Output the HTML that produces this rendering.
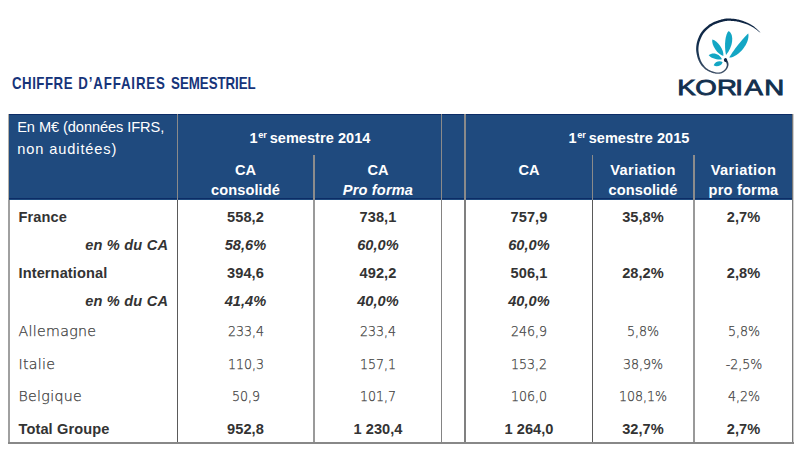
<!DOCTYPE html>
<html lang="fr"><head><meta charset="utf-8"><title>Chiffre d'affaires semestriel</title>
<style>
html,body{margin:0;padding:0;background:#fff;}
body{width:800px;height:450px;position:relative;overflow:hidden;font-family:"Liberation Sans", Arial, sans-serif;}
.t{position:absolute;line-height:1;white-space:nowrap;}
.r{position:absolute;}
</style></head><body>
<div class="t" style="left:12.30px;top:75.65px;font-size:16.6px;font-weight:700;font-style:normal;color:#16347a;letter-spacing:0.62px;transform:scaleX(0.8);transform-origin:0 0;word-spacing:1.4px;">CHIFFRE <span style="letter-spacing:1.07px">D’AFFAIRES</span> <span style="letter-spacing:-0.03px">SEMESTRIEL</span></div>
<div class="r" style="left:9px;top:114px;width:784px;height:86px;background:#1f4a7e;"></div>
<div class="r" style="left:9px;top:114px;width:784px;height:1px;background:#0c2c66;"></div>
<div class="r" style="left:9px;top:198px;width:784px;height:1px;background:#0c2c66;"></div>
<div class="r" style="left:8px;top:114px;width:1px;height:86px;background:#b4b0a8;"></div>
<div class="r" style="left:8px;top:200px;width:2px;height:244px;background:#a0a0a0;"></div>
<div class="r" style="left:177px;top:114px;width:1px;height:86px;background:#8a8a8a;"></div>
<div class="r" style="left:177px;top:200px;width:1px;height:244px;background:#5a5a5a;"></div>
<div class="r" style="left:313px;top:155px;width:2px;height:45px;background:#8c8c8c;"></div>
<div class="r" style="left:313px;top:200px;width:2px;height:244px;background:#9a9a9a;"></div>
<div class="r" style="left:441px;top:114px;width:1px;height:86px;background:#8a8a8a;"></div>
<div class="r" style="left:441px;top:200px;width:1px;height:244px;background:#848484;"></div>
<div class="r" style="left:464px;top:114px;width:2px;height:86px;background:#8a8a8a;"></div>
<div class="r" style="left:464px;top:200px;width:2px;height:244px;background:#808080;"></div>
<div class="r" style="left:592px;top:155px;width:1px;height:45px;background:#8a8a8a;"></div>
<div class="r" style="left:592px;top:200px;width:1px;height:244px;background:#5a5a5a;"></div>
<div class="r" style="left:693px;top:155px;width:2px;height:45px;background:#8c8c8c;"></div>
<div class="r" style="left:693px;top:200px;width:2px;height:244px;background:#999999;"></div>
<div class="r" style="left:792px;top:114px;width:1px;height:330px;background:#7a7a7a;"></div>
<div class="r" style="left:793px;top:114px;width:1px;height:330px;background:#d0d0d0;"></div>
<div class="r" style="left:8px;top:442px;width:786px;height:2px;background:#888888;"></div>
<div class="t" style="left:17.20px;top:119.64px;font-size:14.6px;font-weight:400;font-style:normal;color:#ffffff;letter-spacing:-0.07px;">En M€ (données IFRS,</div>
<div class="t" style="left:17.20px;top:141.54px;font-size:14.6px;font-weight:400;font-style:normal;color:#ffffff;letter-spacing:0.9px;">non auditées)</div>
<div class="t" style="left:190.00px;width:240px;text-align:center;top:129.80px;font-size:15.0px;font-weight:700;font-style:normal;color:#ffffff;letter-spacing:0.05px;transform:scaleX(0.968);">1<span style="font-size:9.5px;position:relative;top:-4.5px;margin:0 -1.5px 0 0.5px;">er</span> semestre 2014</div>
<div class="t" style="left:509.20px;width:240px;text-align:center;top:129.80px;font-size:15.0px;font-weight:700;font-style:normal;color:#ffffff;letter-spacing:0.05px;transform:scaleX(0.968);">1<span style="font-size:9.5px;position:relative;top:-4.5px;margin:0 -1.5px 0 0.5px;">er</span> semestre 2015</div>
<div class="t" style="left:125.50px;width:240px;text-align:center;top:162.64px;font-size:14.6px;font-weight:700;font-style:normal;color:#ffffff;">CA</div>
<div class="t" style="left:125.50px;width:240px;text-align:center;top:183.24px;font-size:14.6px;font-weight:700;font-style:normal;color:#ffffff;letter-spacing:0.1px;">consolidé</div>
<div class="t" style="left:258.00px;width:240px;text-align:center;top:162.64px;font-size:14.6px;font-weight:700;font-style:normal;color:#ffffff;">CA</div>
<div class="t" style="left:258.00px;width:240px;text-align:center;top:183.24px;font-size:14.6px;font-weight:700;font-style:italic;color:#ffffff;letter-spacing:0.15px;">Pro forma</div>
<div class="t" style="left:409.00px;width:240px;text-align:center;top:162.64px;font-size:14.6px;font-weight:700;font-style:normal;color:#ffffff;">CA</div>
<div class="t" style="left:523.00px;width:240px;text-align:center;top:162.64px;font-size:14.6px;font-weight:700;font-style:normal;color:#ffffff;letter-spacing:0.45px;">Variation</div>
<div class="t" style="left:523.00px;width:240px;text-align:center;top:183.24px;font-size:14.6px;font-weight:700;font-style:normal;color:#ffffff;letter-spacing:0.1px;">consolidé</div>
<div class="t" style="left:623.50px;width:240px;text-align:center;top:162.64px;font-size:14.6px;font-weight:700;font-style:normal;color:#ffffff;letter-spacing:0.45px;">Variation</div>
<div class="t" style="left:623.50px;width:240px;text-align:center;top:183.24px;font-size:14.6px;font-weight:700;font-style:normal;color:#ffffff;letter-spacing:0.2px;">pro forma</div>
<div class="t" style="left:18.50px;top:210.24px;font-size:14.6px;font-weight:700;font-style:normal;color:#333333;letter-spacing:0.1px;">France</div>
<div class="t" style="left:125.50px;width:240px;text-align:center;top:210.24px;font-size:14.6px;font-weight:700;font-style:normal;color:#333333;letter-spacing:0.05px;">558,2</div>
<div class="t" style="left:258.00px;width:240px;text-align:center;top:210.24px;font-size:14.6px;font-weight:700;font-style:normal;color:#333333;letter-spacing:0.05px;">738,1</div>
<div class="t" style="left:409.00px;width:240px;text-align:center;top:210.24px;font-size:14.6px;font-weight:700;font-style:normal;color:#333333;letter-spacing:0.05px;">757,9</div>
<div class="t" style="left:523.00px;width:240px;text-align:center;top:210.24px;font-size:14.6px;font-weight:700;font-style:normal;color:#333333;letter-spacing:0.05px;">35,8%</div>
<div class="t" style="left:623.50px;width:240px;text-align:center;top:210.24px;font-size:14.6px;font-weight:700;font-style:normal;color:#333333;letter-spacing:0.05px;">2,7%</div>
<div class="t" style="left:-71.80px;width:240px;text-align:right;top:238.44px;font-size:14.6px;font-weight:700;font-style:italic;color:#333333;letter-spacing:0.2px;">en % du CA</div>
<div class="t" style="left:125.50px;width:240px;text-align:center;top:238.44px;font-size:14.6px;font-weight:700;font-style:italic;color:#333333;letter-spacing:0.05px;">58,6%</div>
<div class="t" style="left:258.00px;width:240px;text-align:center;top:238.44px;font-size:14.6px;font-weight:700;font-style:italic;color:#333333;letter-spacing:0.05px;">60,0%</div>
<div class="t" style="left:409.00px;width:240px;text-align:center;top:238.44px;font-size:14.6px;font-weight:700;font-style:italic;color:#333333;letter-spacing:0.05px;">60,0%</div>
<div class="t" style="left:18.50px;top:265.84px;font-size:14.6px;font-weight:700;font-style:normal;color:#333333;letter-spacing:0.1px;">International</div>
<div class="t" style="left:125.50px;width:240px;text-align:center;top:265.84px;font-size:14.6px;font-weight:700;font-style:normal;color:#333333;letter-spacing:0.05px;">394,6</div>
<div class="t" style="left:258.00px;width:240px;text-align:center;top:265.84px;font-size:14.6px;font-weight:700;font-style:normal;color:#333333;letter-spacing:0.05px;">492,2</div>
<div class="t" style="left:409.00px;width:240px;text-align:center;top:265.84px;font-size:14.6px;font-weight:700;font-style:normal;color:#333333;letter-spacing:0.05px;">506,1</div>
<div class="t" style="left:523.00px;width:240px;text-align:center;top:265.84px;font-size:14.6px;font-weight:700;font-style:normal;color:#333333;letter-spacing:0.05px;">28,2%</div>
<div class="t" style="left:623.50px;width:240px;text-align:center;top:265.84px;font-size:14.6px;font-weight:700;font-style:normal;color:#333333;letter-spacing:0.05px;">2,8%</div>
<div class="t" style="left:-71.80px;width:240px;text-align:right;top:294.24px;font-size:14.6px;font-weight:700;font-style:italic;color:#333333;letter-spacing:0.2px;">en % du CA</div>
<div class="t" style="left:125.50px;width:240px;text-align:center;top:294.24px;font-size:14.6px;font-weight:700;font-style:italic;color:#333333;letter-spacing:0.05px;">41,4%</div>
<div class="t" style="left:258.00px;width:240px;text-align:center;top:294.24px;font-size:14.6px;font-weight:700;font-style:italic;color:#333333;letter-spacing:0.05px;">40,0%</div>
<div class="t" style="left:409.00px;width:240px;text-align:center;top:294.24px;font-size:14.6px;font-weight:700;font-style:italic;color:#333333;letter-spacing:0.05px;">40,0%</div>
<div class="t" style="left:18.50px;top:323.98px;font-size:14.2px;font-weight:200;font-style:normal;color:#3a3a3a;letter-spacing:0.3px;font-family:'DejaVu Sans',sans-serif;-webkit-text-stroke:0.25px #3a3a3a;">Allemagne</div>
<div class="t" style="left:125.50px;width:240px;text-align:center;top:323.98px;font-size:14.2px;font-weight:200;font-style:normal;color:#3a3a3a;font-family:'DejaVu Sans',sans-serif;-webkit-text-stroke:0.25px #3a3a3a;transform:scaleX(0.89);">233,4</div>
<div class="t" style="left:258.00px;width:240px;text-align:center;top:323.98px;font-size:14.2px;font-weight:200;font-style:normal;color:#3a3a3a;font-family:'DejaVu Sans',sans-serif;-webkit-text-stroke:0.25px #3a3a3a;transform:scaleX(0.89);">233,4</div>
<div class="t" style="left:409.00px;width:240px;text-align:center;top:323.98px;font-size:14.2px;font-weight:200;font-style:normal;color:#3a3a3a;font-family:'DejaVu Sans',sans-serif;-webkit-text-stroke:0.25px #3a3a3a;transform:scaleX(0.89);">246,9</div>
<div class="t" style="left:523.00px;width:240px;text-align:center;top:323.98px;font-size:14.2px;font-weight:200;font-style:normal;color:#3a3a3a;font-family:'DejaVu Sans',sans-serif;-webkit-text-stroke:0.25px #3a3a3a;transform:scaleX(0.89);">5,8%</div>
<div class="t" style="left:623.50px;width:240px;text-align:center;top:323.98px;font-size:14.2px;font-weight:200;font-style:normal;color:#3a3a3a;font-family:'DejaVu Sans',sans-serif;-webkit-text-stroke:0.25px #3a3a3a;transform:scaleX(0.89);">5,8%</div>
<div class="t" style="left:18.50px;top:356.78px;font-size:14.2px;font-weight:200;font-style:normal;color:#3a3a3a;letter-spacing:0.3px;font-family:'DejaVu Sans',sans-serif;-webkit-text-stroke:0.25px #3a3a3a;">Italie</div>
<div class="t" style="left:125.50px;width:240px;text-align:center;top:356.78px;font-size:14.2px;font-weight:200;font-style:normal;color:#3a3a3a;font-family:'DejaVu Sans',sans-serif;-webkit-text-stroke:0.25px #3a3a3a;transform:scaleX(0.89);">110,3</div>
<div class="t" style="left:258.00px;width:240px;text-align:center;top:356.78px;font-size:14.2px;font-weight:200;font-style:normal;color:#3a3a3a;font-family:'DejaVu Sans',sans-serif;-webkit-text-stroke:0.25px #3a3a3a;transform:scaleX(0.89);">157,1</div>
<div class="t" style="left:409.00px;width:240px;text-align:center;top:356.78px;font-size:14.2px;font-weight:200;font-style:normal;color:#3a3a3a;font-family:'DejaVu Sans',sans-serif;-webkit-text-stroke:0.25px #3a3a3a;transform:scaleX(0.89);">153,2</div>
<div class="t" style="left:523.00px;width:240px;text-align:center;top:356.78px;font-size:14.2px;font-weight:200;font-style:normal;color:#3a3a3a;font-family:'DejaVu Sans',sans-serif;-webkit-text-stroke:0.25px #3a3a3a;transform:scaleX(0.89);">38,9%</div>
<div class="t" style="left:623.50px;width:240px;text-align:center;top:356.78px;font-size:14.2px;font-weight:200;font-style:normal;color:#3a3a3a;font-family:'DejaVu Sans',sans-serif;-webkit-text-stroke:0.25px #3a3a3a;transform:scaleX(0.89);">-2,5%</div>
<div class="t" style="left:18.50px;top:388.98px;font-size:14.2px;font-weight:200;font-style:normal;color:#3a3a3a;letter-spacing:0.3px;font-family:'DejaVu Sans',sans-serif;-webkit-text-stroke:0.25px #3a3a3a;">Belgique</div>
<div class="t" style="left:125.50px;width:240px;text-align:center;top:388.98px;font-size:14.2px;font-weight:200;font-style:normal;color:#3a3a3a;font-family:'DejaVu Sans',sans-serif;-webkit-text-stroke:0.25px #3a3a3a;transform:scaleX(0.89);">50,9</div>
<div class="t" style="left:258.00px;width:240px;text-align:center;top:388.98px;font-size:14.2px;font-weight:200;font-style:normal;color:#3a3a3a;font-family:'DejaVu Sans',sans-serif;-webkit-text-stroke:0.25px #3a3a3a;transform:scaleX(0.89);">101,7</div>
<div class="t" style="left:409.00px;width:240px;text-align:center;top:388.98px;font-size:14.2px;font-weight:200;font-style:normal;color:#3a3a3a;font-family:'DejaVu Sans',sans-serif;-webkit-text-stroke:0.25px #3a3a3a;transform:scaleX(0.89);">106,0</div>
<div class="t" style="left:523.00px;width:240px;text-align:center;top:388.98px;font-size:14.2px;font-weight:200;font-style:normal;color:#3a3a3a;font-family:'DejaVu Sans',sans-serif;-webkit-text-stroke:0.25px #3a3a3a;transform:scaleX(0.89);">108,1%</div>
<div class="t" style="left:623.50px;width:240px;text-align:center;top:388.98px;font-size:14.2px;font-weight:200;font-style:normal;color:#3a3a3a;font-family:'DejaVu Sans',sans-serif;-webkit-text-stroke:0.25px #3a3a3a;transform:scaleX(0.89);">4,2%</div>
<div class="t" style="left:18.50px;top:421.84px;font-size:14.6px;font-weight:700;font-style:normal;color:#333333;letter-spacing:0.1px;">Total Groupe</div>
<div class="t" style="left:125.50px;width:240px;text-align:center;top:421.84px;font-size:14.6px;font-weight:700;font-style:normal;color:#333333;letter-spacing:0.05px;">952,8</div>
<div class="t" style="left:258.00px;width:240px;text-align:center;top:421.84px;font-size:14.6px;font-weight:700;font-style:normal;color:#333333;letter-spacing:0.05px;">1 230,4</div>
<div class="t" style="left:409.00px;width:240px;text-align:center;top:421.84px;font-size:14.6px;font-weight:700;font-style:normal;color:#333333;letter-spacing:0.05px;">1 264,0</div>
<div class="t" style="left:523.00px;width:240px;text-align:center;top:421.84px;font-size:14.6px;font-weight:700;font-style:normal;color:#333333;letter-spacing:0.05px;">32,7%</div>
<div class="t" style="left:623.50px;width:240px;text-align:center;top:421.84px;font-size:14.6px;font-weight:700;font-style:normal;color:#333333;letter-spacing:0.05px;">2,7%</div>
<svg class="r" style="left:670px;top:10px;" width="125" height="95" viewBox="670 10 125 95">
<defs><linearGradient id="sg" gradientUnits="userSpaceOnUse" x1="0" y1="18" x2="0" y2="75"><stop offset="0" stop-color="#0e2442"/><stop offset="0.55" stop-color="#13304f"/><stop offset="1" stop-color="#44546a"/></linearGradient></defs>
<path d="M760.33,32.25 L759.66,31.65 L759.00,31.03 L758.34,30.41 L757.68,29.79 L757.01,29.17 L756.35,28.56 L755.68,27.96 L755.00,27.38 L754.32,26.82 L753.63,26.30 L752.94,25.83 L752.26,25.38 L751.58,24.95 L750.90,24.55 L750.22,24.17 L749.52,23.80 L748.82,23.44 L748.11,23.09 L747.37,22.75 L746.62,22.41 L745.83,22.08 L745.03,21.75 L744.20,21.43 L743.35,21.12 L742.50,20.83 L741.64,20.54 L740.78,20.27 L739.92,20.02 L739.06,19.78 L738.22,19.57 L737.38,19.39 L736.54,19.23 L735.70,19.09 L734.87,18.96 L734.04,18.86 L733.21,18.76 L732.40,18.69 L731.59,18.63 L730.80,18.58 L730.03,18.55 L729.29,18.53 L728.59,18.52 L727.91,18.51 L727.23,18.52 L726.55,18.55 L725.85,18.61 L725.13,18.69 L724.37,18.80 L723.57,18.95 L722.72,19.13 L721.80,19.37 L720.81,19.64 L719.77,19.95 L718.69,20.29 L717.59,20.65 L716.50,21.04 L715.42,21.44 L714.38,21.86 L713.39,22.29 L712.47,22.73 L711.61,23.17 L710.80,23.64 L710.03,24.12 L709.29,24.61 L708.60,25.12 L707.93,25.63 L707.29,26.15 L706.67,26.67 L706.08,27.19 L705.49,27.71 L704.93,28.23 L704.39,28.75 L703.86,29.27 L703.36,29.80 L702.88,30.35 L702.41,30.91 L701.96,31.48 L701.52,32.09 L701.09,32.71 L700.68,33.37 L700.26,34.08 L699.86,34.81 L699.47,35.58 L699.09,36.37 L698.73,37.17 L698.39,37.98 L698.07,38.79 L697.77,39.59 L697.50,40.38 L697.25,41.15 L697.04,41.92 L696.85,42.68 L696.69,43.43 L696.56,44.18 L696.44,44.92 L696.35,45.65 L696.28,46.37 L696.22,47.08 L696.18,47.78 L696.15,48.46 L696.14,49.14 L696.16,49.81 L696.19,50.46 L696.24,51.10 L696.31,51.72 L696.40,52.34 L696.49,52.94 L696.59,53.54 L696.70,54.12 L696.82,54.71 L696.94,55.29 L697.08,55.87 L697.22,56.44 L697.37,57.01 L697.53,57.57 L697.71,58.14 L697.90,58.70 L698.11,59.27 L698.34,59.83 L698.58,60.39 L698.83,60.95 L699.09,61.50 L699.37,62.06 L699.66,62.63 L699.97,63.19 L700.30,63.76 L700.66,64.32 L701.04,64.88 L701.46,65.44 L701.91,65.98 L702.39,66.51 L702.89,67.04 L703.42,67.58 L703.98,68.11 L704.57,68.63 L705.17,69.14 L705.81,69.63 L706.46,70.10 L707.13,70.54 L707.83,70.95 L708.55,71.33 L709.32,71.69 L710.12,72.03 L710.94,72.35 L711.77,72.64 L712.60,72.91 L713.42,73.14 L714.21,73.34 L714.97,73.51 L715.69,73.64 L716.37,73.74 L717.02,73.81 L717.66,73.84 L718.27,73.84 L718.87,73.80 L719.45,73.74 L720.01,73.65 L720.56,73.53 L721.09,73.38 L721.62,73.21 L722.15,73.01 L722.67,72.76 L723.18,72.48 L723.67,72.18 L724.14,71.85 L724.58,71.50 L725.01,71.15 L725.41,70.79 L725.78,70.43 L726.12,70.07 L726.45,69.70 L726.75,69.31 L727.03,68.91 L727.27,68.50 L727.50,68.09 L727.70,67.68 L727.88,67.27 L728.03,66.87 L728.16,66.47 L728.28,66.09 L728.37,65.70 L728.44,65.31 L728.49,64.92 L728.50,64.54 L728.50,64.16 L728.47,63.80 L728.43,63.44 L728.36,63.09 L728.29,62.74 L728.20,62.39 L728.08,62.03 L727.93,61.67 L727.77,61.33 L727.58,61.01 L727.40,60.71 L727.21,60.42 L727.03,60.15 L726.86,59.88 L726.71,59.63 L726.56,59.37 L724.64,60.63 L724.84,60.91 L725.06,61.18 L725.28,61.44 L725.49,61.69 L725.69,61.93 L725.87,62.16 L726.04,62.37 L726.18,62.59 L726.30,62.79 L726.40,63.01 L726.49,63.25 L726.57,63.51 L726.65,63.78 L726.71,64.04 L726.75,64.31 L726.78,64.58 L726.80,64.86 L726.79,65.13 L726.77,65.42 L726.72,65.71 L726.65,66.03 L726.55,66.37 L726.44,66.72 L726.30,67.08 L726.15,67.43 L725.98,67.79 L725.78,68.14 L725.57,68.48 L725.34,68.81 L725.08,69.13 L724.78,69.45 L724.45,69.79 L724.10,70.12 L723.72,70.45 L723.33,70.77 L722.92,71.07 L722.49,71.34 L722.06,71.59 L721.62,71.81 L721.18,71.99 L720.72,72.14 L720.25,72.26 L719.76,72.37 L719.27,72.45 L718.76,72.51 L718.23,72.54 L717.69,72.54 L717.12,72.51 L716.53,72.45 L715.91,72.36 L715.25,72.22 L714.54,72.04 L713.79,71.83 L713.02,71.59 L712.23,71.32 L711.45,71.02 L710.67,70.71 L709.93,70.37 L709.23,70.01 L708.57,69.65 L707.96,69.26 L707.36,68.83 L706.78,68.38 L706.22,67.90 L705.67,67.41 L705.15,66.90 L704.64,66.38 L704.16,65.85 L703.71,65.33 L703.29,64.82 L702.90,64.33 L702.55,63.83 L702.22,63.32 L701.92,62.80 L701.63,62.28 L701.37,61.75 L701.11,61.22 L700.87,60.69 L700.64,60.15 L700.42,59.61 L700.21,59.08 L700.03,58.56 L699.85,58.05 L699.70,57.52 L699.55,57.00 L699.42,56.47 L699.30,55.94 L699.19,55.40 L699.08,54.85 L698.98,54.29 L698.88,53.73 L698.78,53.16 L698.69,52.60 L698.62,52.03 L698.55,51.47 L698.50,50.90 L698.46,50.32 L698.43,49.74 L698.43,49.15 L698.45,48.54 L698.48,47.91 L698.53,47.26 L698.60,46.60 L698.67,45.94 L698.77,45.26 L698.88,44.59 L699.02,43.90 L699.17,43.22 L699.35,42.53 L699.55,41.85 L699.77,41.14 L700.03,40.40 L700.31,39.65 L700.61,38.89 L700.93,38.13 L701.27,37.38 L701.62,36.64 L701.98,35.93 L702.35,35.26 L702.72,34.63 L703.10,34.03 L703.48,33.47 L703.88,32.93 L704.28,32.41 L704.70,31.92 L705.13,31.43 L705.59,30.95 L706.06,30.47 L706.57,29.98 L707.11,29.49 L707.66,28.99 L708.23,28.49 L708.82,28.00 L709.41,27.52 L710.03,27.04 L710.67,26.58 L711.33,26.13 L712.03,25.70 L712.76,25.28 L713.53,24.87 L714.37,24.48 L715.30,24.08 L716.29,23.68 L717.32,23.29 L718.37,22.92 L719.43,22.57 L720.47,22.24 L721.47,21.95 L722.41,21.69 L723.28,21.47 L724.06,21.29 L724.78,21.14 L725.45,21.03 L726.09,20.95 L726.70,20.90 L727.31,20.86 L727.93,20.84 L728.58,20.84 L729.25,20.84 L729.97,20.85 L730.72,20.86 L731.47,20.89 L732.24,20.92 L733.01,20.98 L733.80,21.04 L734.59,21.13 L735.39,21.23 L736.19,21.34 L736.98,21.48 L737.78,21.63 L738.59,21.79 L739.41,21.97 L740.24,22.18 L741.08,22.40 L741.93,22.64 L742.76,22.89 L743.59,23.15 L744.41,23.42 L745.21,23.70 L745.98,23.99 L746.73,24.27 L747.46,24.56 L748.18,24.85 L748.87,25.15 L749.56,25.46 L750.24,25.79 L750.92,26.13 L751.59,26.49 L752.28,26.88 L752.97,27.30 L753.67,27.73 L754.37,28.21 L755.08,28.71 L755.79,29.23 L756.50,29.78 L757.21,30.34 L757.92,30.90 L758.64,31.46 L759.36,32.02 L760.07,32.55 Z" fill="url(#sg)"/>
<ellipse cx="725.5" cy="60.1" rx="1.6" ry="2.0" transform="rotate(-20 725.5 60.1)" fill="#0e2442"/>
<g fill="#13a6c4">
<path d="M728.80,31.00 C725.29,33.51 723.89,45.51 726.00,55.00 C733.02,46.58 734.42,34.58 728.80,31.00 Z"/>
<path d="M748.30,33.40 C743.43,37.41 731.97,51.93 729.20,57.60 C738.67,57.22 750.13,42.70 748.30,33.40 Z"/>
<path d="M712.30,39.60 C711.18,45.10 717.78,54.88 723.30,55.90 C724.31,50.48 717.71,40.70 712.30,39.60 Z"/>
<path d="M708.70,55.20 C710.72,58.04 717.98,60.24 721.90,59.20 C719.95,53.73 712.69,51.53 708.70,55.20 Z"/>
<path d="M713.70,65.30 C716.44,67.45 721.78,65.59 722.60,62.20 C719.86,60.05 714.52,61.91 713.70,65.30 Z"/>
</g>
<text transform="scale(1.24,1)" x="546.27 560.69 578.24 592.92 600.33 616.34" y="95.0" font-family="Liberation Sans, Arial, sans-serif" font-size="22.3" fill="#12304f" stroke="#12304f" stroke-width="0.85">KORIAN</text>
</svg>
</body></html>
